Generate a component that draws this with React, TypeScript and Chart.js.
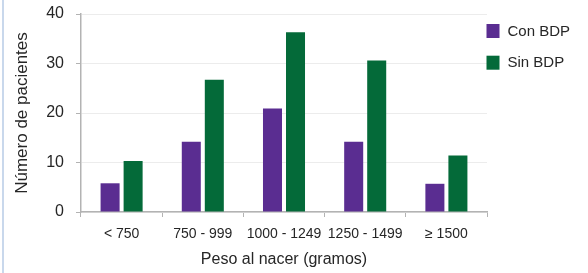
import React, { useEffect, useRef } from "react";
import { Chart, registerables } from "chart.js";

Chart.register(...registerables);

const categories = ["< 750", "750 - 999", "1000 - 1249", "1250 - 1499", "≥ 1500"];
const conBDP = [5.8, 14.2, 20.9, 14.2, 5.7];
const sinBDP = [10.3, 26.7, 36.3, 30.6, 11.4];
const seriesNames = ["Con BDP", "Sin BDP"];
const seriesColors = ["#5a2d91", "#046a39"];
const yMin = 0;
const yMax = 40;
const yStep = 10;
const xTitle = "Peso al nacer (gramos)";
const yTitle = "Número de pacientes";

const FONT = '"Liberation Sans", Arial, Helvetica, sans-serif';

const sideLegend = {
  id: "sideLegend",
  afterDraw(chart: any) {
    const ctx = chart.ctx;
    const area = chart.chartArea;
    ctx.save();
    ctx.font = `15px ${FONT}`;
    ctx.textBaseline = "middle";
    ctx.textAlign = "left";
    chart.data.datasets.forEach((ds: any, i: number) => {
      const cy = 31 + i * 31.7;
      const x = area.right - 0.5;
      ctx.fillStyle = ds.backgroundColor;
      ctx.fillRect(x, cy - 7, 13, 14);
      ctx.fillStyle = "#262626";
      ctx.fillText(ds.label, x + 21, cy + 0.5);
    });
    ctx.restore();
  },
};

export default function App() {
  const ref = useRef<HTMLCanvasElement | null>(null);

  useEffect(() => {
    if (!ref.current) return;
    const chart = new Chart(ref.current, {
      type: "bar",
      data: {
        labels: categories,
        datasets: [
          {
            label: seriesNames[0],
            data: conBDP,
            backgroundColor: seriesColors[0],
            categoryPercentage: 0.567,
            barPercentage: 0.826,
          },
          {
            label: seriesNames[1],
            data: sinBDP,
            backgroundColor: seriesColors[1],
            categoryPercentage: 0.567,
            barPercentage: 0.826,
          },
        ],
      },
      options: {
        responsive: false,
        animation: false,
        devicePixelRatio: 1,
        layout: { padding: { left: 0, right: 101, top: 14, bottom: 0 } },
        plugins: {
          legend: { display: false },
          tooltip: { enabled: false },
        },
        scales: {
          x: {
            offset: true,
            grid: {
              display: true,
              drawOnChartArea: false,
              drawTicks: true,
              tickLength: 5,
              tickColor: "#b3b3b3",
              offset: true,
            },
            border: { color: "#b3b3b3", width: 1.5 },
            ticks: {
              color: "#262626",
              font: { family: FONT, size: 14 },
              padding: 9,
              maxRotation: 0,
              autoSkip: false,
            },
            title: {
              display: true,
              text: xTitle,
              color: "#262626",
              font: { family: FONT, size: 16 },
              padding: { top: 0, bottom: 4 },
            },
            afterFit: (s: any) => {
              s.height = 61;
              s.paddingLeft = 0;
              s.paddingRight = 0;
            },
          },
          y: {
            min: yMin,
            max: yMax,
            grid: {
              color: "#ececec",
              tickColor: "#b3b3b3",
              tickLength: 5,
            },
            border: { color: "#b3b3b3", width: 1.5 },
            ticks: {
              stepSize: yStep,
              color: "#262626",
              font: { family: FONT, size: 16 },
              padding: 12,
            },
            title: {
              display: true,
              text: yTitle,
              color: "#262626",
              font: { family: FONT, size: 17 },
              padding: { top: 12, bottom: 0 },
            },
            afterFit: (s: any) => {
              s.width = 81;
              s.paddingTop = 0;
              s.paddingBottom = 0;
            },
          },
        },
      },
      plugins: [sideLegend],
    });
    return () => chart.destroy();
  }, []);

  return (
    <div
      style={{
        position: "absolute",
        left: 0,
        top: 0,
        width: 588,
        height: 273,
        background: "#ffffff",
        overflow: "hidden",
      }}
    >
      <div
        style={{
          position: "absolute",
          left: 2,
          top: 0,
          width: 2,
          height: 273,
          background: "#c9d8ec",
        }}
      />
      <canvas ref={ref} width={588} height={273} style={{ display: "block", width: 588, height: 273 }} />
    </div>
  );
}
